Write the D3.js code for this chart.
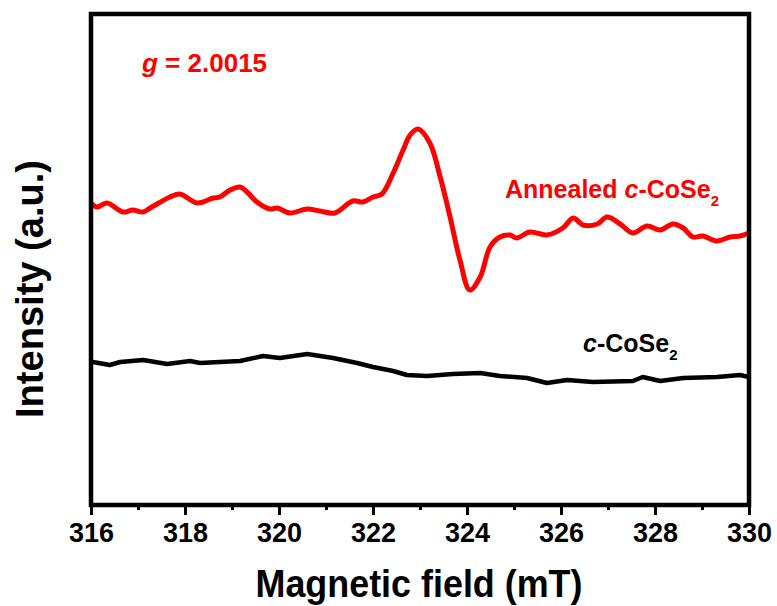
<!DOCTYPE html>
<html>
<head>
<meta charset="utf-8">
<script src="https://cdn.jsdelivr.net/npm/d3@7"></script>
<style>
  html, body { margin: 0; padding: 0; background: #fff; }
  svg { display: block; font-family: "Liberation Sans", Arial, sans-serif; }
</style>
</head>
<body>
<svg id="chart" width="777" height="606"></svg>
<script>
// ---- data ----
const annealedField = [316.00,316.13,316.34,316.68,316.89,317.11,317.26,317.68,317.89,318.26,318.60,318.74,318.96,319.17,319.32,319.53,319.81,319.96,320.23,320.60,320.87,321.19,321.57,321.79,322.00,322.19,322.43,322.64,322.79,322.96,323.21,323.43,323.64,323.85,324.06,324.28,324.49,324.70,324.91,325.06,325.34,325.70,326.04,326.26,326.47,326.77,326.98,327.26,327.53,327.83,328.11,328.38,328.60,328.81,329.02,329.32,329.60,329.81,330.00];
const annealedIntensity = [302,298,302,293,295,293,297,308,311,302,307,308,315,318,313,303,296,297,292,296,294,292,304,303,308,311,332,355,370,376,362,328,288,245,215,228,258,268,270,267,273,270,277,287,280,281,288,281,272,279,275,281,277,268,269,264,268,269,272];

const pristineField = [316.00,316.04,316.40,316.62,317.11,317.62,318.11,318.32,318.74,319.17,319.66,320.02,320.60,321.15,321.66,322.00,322.43,322.72,323.15,323.70,324.28,324.70,325.28,325.70,326.13,326.68,327.53,327.74,328.11,328.60,329.32,329.81,330.00];
const pristineIntensity = [143,143,140,143,145,141,144,142,143,144,149,147,151,147,142,138,134,130,129,131,132,129,127,122,125,123,124,128,124,127,128,130,128];

const xTicks = [316,318,320,322,324,326,328,330];
const xMinorTicks = [317,319,321,323,325,327,329];
const xDomain = [316, 330];
const yDomain = [0, 491];

// ---- layout ----
const svg = d3.select("#chart");
const L = 91, R = 749, T = 14, B = 505;
const x = d3.scaleLinear().domain(xDomain).range([L, R]);
const y = d3.scaleLinear().domain(yDomain).range([B, T]);

// curves
const lineSmooth = d3.line().x(d => x(d[0])).y(d => y(d[1])).curve(d3.curveCatmullRom.alpha(0.5));
const lineRaw = d3.line().x(d => x(d[0])).y(d => y(d[1])).curve(d3.curveLinear);

const pristine = pristineField.map((f, i) => [f, pristineIntensity[i]]);
const annealed = annealedField.map((f, i) => [f, annealedIntensity[i]]);

svg.append("defs").append("clipPath").attr("id", "clip")
  .append("rect").attr("x", L).attr("y", T).attr("width", R - L).attr("height", B - T);

const g = svg.append("g").attr("clip-path", "url(#clip)");
g.append("path").datum(pristine).attr("d", lineRaw)
  .attr("fill", "none").attr("stroke", "#000").attr("stroke-width", 4.5)
  .attr("stroke-linejoin", "round").attr("stroke-linecap", "round");
g.append("path").datum(annealed).attr("d", lineSmooth)
  .attr("fill", "none").attr("stroke", "#ff0000").attr("stroke-width", 5)
  .attr("stroke-linejoin", "round").attr("stroke-linecap", "round");

// x axis (major + minor ticks)
const xAxis = svg.append("g").attr("transform", `translate(0,${B})`)
  .call(d3.axisBottom(x).tickValues(xTicks).tickSize(10).tickSizeOuter(0).tickFormat(d3.format("d")));
xAxis.select(".domain").remove();
xAxis.selectAll(".tick line").attr("stroke", "#000").attr("stroke-width", 3);
xAxis.selectAll(".tick text")
  .attr("y", 37).attr("dy", 0)
  .attr("font-size", 27).attr("font-weight", "bold").attr("fill", "#000")
  .attr("font-family", "'Liberation Sans', Arial, sans-serif");

const xMinor = svg.append("g").attr("transform", `translate(0,${B})`)
  .call(d3.axisBottom(x).tickValues(xMinorTicks).tickSize(5).tickFormat(""));
xMinor.select(".domain").remove();
xMinor.selectAll(".tick line").attr("stroke", "#000").attr("stroke-width", 3);

// frame
svg.append("rect").attr("x", L).attr("y", T).attr("width", R - L).attr("height", B - T)
  .attr("fill", "none").attr("stroke", "#000").attr("stroke-width", 4.5);

// axis titles
svg.append("text").attr("x", (L + R) / 2 - 1).attr("y", 597)
  .attr("text-anchor", "middle").attr("font-size", 38).attr("font-weight", "bold")
  .attr("textLength", 327).attr("lengthAdjust", "spacingAndGlyphs")
  .text("Magnetic field (mT)");

svg.append("text").attr("transform", "translate(43,289) rotate(-90)")
  .attr("text-anchor", "middle").attr("font-size", 39).attr("font-weight", "bold")
  .attr("textLength", 258).attr("lengthAdjust", "spacingAndGlyphs")
  .text("Intensity (a.u.)");

// annotations
const gLabel = svg.append("text").attr("x", 142).attr("y", 72)
  .attr("font-size", 26).attr("font-weight", "bold").attr("fill", "#ff0000");
gLabel.append("tspan").attr("font-style", "italic").text("g");
gLabel.append("tspan").text(" = 2.0015");

const aLabel = svg.append("text").attr("x", 505).attr("y", 198)
  .attr("font-size", 25).attr("font-weight", "bold").attr("fill", "#ff0000");
aLabel.append("tspan").text("Annealed ");
aLabel.append("tspan").attr("font-style", "italic").text("c");
aLabel.append("tspan").text("-CoSe");
aLabel.append("tspan").attr("font-size", 15).attr("dy", 8).text("2");

const pLabel = svg.append("text").attr("x", 583).attr("y", 352)
  .attr("font-size", 25).attr("font-weight", "bold").attr("fill", "#000");
pLabel.append("tspan").attr("font-style", "italic").text("c");
pLabel.append("tspan").text("-CoSe");
pLabel.append("tspan").attr("font-size", 15).attr("dy", 8).text("2");
</script>
</body>
</html>
